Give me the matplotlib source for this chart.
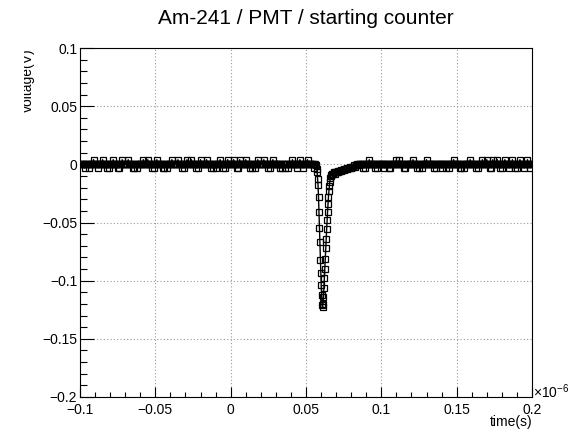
import numpy as np
import matplotlib
matplotlib.use("Agg")
from matplotlib import pyplot as plt
from matplotlib.ticker import MultipleLocator, FuncFormatter
from matplotlib.transforms import Bbox

plt.rcParams['font.family'] = ['Liberation Sans', 'DejaVu Sans']
plt.rcParams['mathtext.default'] = 'regular'

# baseline before the pulse, 0.5 ns steps from -100 ns to 56 ns (mV)
pre_t_ns = np.linspace(-100, 56, 313)
pre_mv = [0, 0, 0, 0, 0, 0, -3, 0, 0, 0, 0, 0, -3, 0, 0, 0, 0, 0, 4, 0,
          0, 0, 0, 0, -3, 0, 0, 0, 0, 0, 4, 0, 0, 0, 0, 0, -3, 0, -3, 0,
          0, 0, 0, 0, 4, 0, 0, 0, 0, 0, -3, 0, -3, 0, 0, 0, 4, 0, 0, 0,
          0, 0, 0, 0, 4, 0, 0, 0, 0, 0, -3, 0, -3, 0, 0, 0, -3, 0, 0, 0,
          0, 0, 0, 0, 4, 0, 0, 0, 0, 0, 4, 0, 0, 0, 0, 0, -3, 0, -3, 0,
          0, 0, 4, 0, 0, 0, 0, 0, 0, 0, -3, 0, -3, 0, 0, 0, -3, 0, 0, 0,
          0, 0, 4, 0, 0, 0, 0, 0, 0, 0, 4, 0, 0, 0, 0, 0, -3, 0, -3, 0,
          0, 0, 4, 0, 0, 0, 0, 0, 4, 0, 0, 0, 0, 0, -3, 0, -3, 0, 0, 0,
          4, 0, 0, 0, 0, 0, 0, 0, 4, 0, 0, 0, 0, 0, -3, 0, -3, 0, 0, 0,
          -3, 0, 0, 0, 0, 0, 4, 0, 0, 0, -3, 0, -3, 0, 0, 0, 4, 0, 0, 0,
          0, 0, 0, 0, 4, 0, 0, 0, -3, 0, -3, 0, 4, 0, 0, 0, 0, 0, 0, 0,
          4, 0, 0, 0, 0, 0, -3, 0, -3, 0, 0, 0, -3, 0, 0, 0, 4, 0, 0, 0,
          0, 0, 0, 0, 4, 0, 0, 0, 0, 0, -3, 0, -3, 0, 0, 0, 4, 0, 0, 0,
          0, 0, 0, 0, 0, 0, -3, 0, -3, 0, 0, 0, -3, 0, 0, 0, -3, 0, 0, 0,
          0, 0, 4, 0, 0, 0, 0, 0, -3, 0, 0, 0, 4, 0, 0, 0, -3, 0, 0, 0,
          0, 0, 4, 0, 0, 0, 0, 0, 0, 0, -3, 0, 0]

# fast part of the pulse (ns, V)
pulse_t_ns = [56.8, 57.1, 57.4, 57.7, 58.0, 58.3, 58.6, 58.9, 59.2, 59.5,
              59.8, 60.1, 60.4, 60.7, 61.0, 61.3, 61.6, 61.9, 62.2, 62.5,
              62.8, 63.1, 63.4, 63.7, 64.0, 64.3, 64.6, 64.9, 65.2, 65.5,
              65.8, 66.1, 66.4, 66.7]
pulse_v = [-0.001, -0.004, -0.007, -0.013, -0.018, -0.028, -0.041, -0.055,
           -0.067, -0.082, -0.093, -0.104, -0.112, -0.121, -0.123, -0.120,
           -0.114, -0.106, -0.098, -0.090, -0.081, -0.072, -0.064, -0.056,
           -0.048, -0.041, -0.034, -0.028, -0.023, -0.019, -0.015, -0.012,
           -0.010, -0.009]

# slow tail, 0.5 ns steps from 67 ns to 84.5 ns (V)
tail_t_ns = np.linspace(67, 84.5, 36)
tail_v = [-0.008, -0.008, -0.008, -0.007, -0.008, -0.007, -0.007, -0.007,
          -0.006, -0.007, -0.006, -0.006, -0.006, -0.005, -0.005, -0.005,
          -0.004, -0.005, -0.004, -0.004, -0.003, -0.004, -0.003, -0.003,
          -0.003, -0.002, -0.003, -0.002, -0.002, -0.002, -0.001, -0.002,
          -0.001, -0.001, 0.0, -0.001]

# baseline after the pulse, 0.5 ns steps from 85 ns to 200 ns (mV)
post_t_ns = np.linspace(85, 200, 231)
post_mv = [0, 0, 0, 0, 0, 0, -3, 0, -3, 0, 0, 0, 0, 0, 4, 0, 0, 0, 0, 0,
           0, 0, -3, 0, -3, 0, 0, 0, 0, 0, 0, 0, 0, 0, -3, 0, 0, 0, 0, 0,
           -3, 0, -3, 0, 0, 0, 0, 0, 0, 0, 4, 0, 0, 0, 4, 0, 0, 0, 0, 0,
           -3, 0, -3, 0, 0, 0, 0, 0, 0, 0, 0, 0, 4, 0, 0, 0, 0, 0, -3, 0,
           -3, 0, 0, 0, -3, 0, 0, 0, 0, 0, 4, 0, 0, 0, 0, 0, 0, 0, 0, 0,
           -3, 0, -3, 0, 0, 0, 0, 0, 0, 0, -3, 0, 0, 0, 0, 0, -3, 0, 0, 0,
           -3, 0, 0, 0, 0, 0, 4, 0, 0, 0, 0, 0, 0, 0, -3, 0, -3, 0, 0, 0,
           -3, 0, 0, 0, 0, 0, 0, 0, 4, 0, 0, 0, 0, 0, 0, 0, -3, 0, -3, 0,
           0, 0, 0, 0, 4, 0, 0, 0, 0, 0, 4, 0, 0, 0, -3, 0, -3, 0, 4, 0,
           0, 0, 0, 0, 4, 0, 0, 0, -3, 0, -3, 0, 0, 0, 4, 0, 0, 0, 0, 0,
           -3, 0, 0, 0, 4, 0, 0, 0, -3, 0, -3, 0, 0, 0, 4, 0, 0, 0, 0, 0,
           -3, 0, 0, 0, 4, 0, 0, 0, -3, 0, 0]

t_us = np.concatenate([pre_t_ns, pulse_t_ns, tail_t_ns, post_t_ns]) / 1000.0
volt = np.concatenate([np.array(pre_mv) / 1000.0, pulse_v, tail_v,
                       np.array(post_mv) / 1000.0])


def root_fmt(x, pos):
    x = round(x, 4)
    if x == 0:
        return "0"
    return f"{x:g}".replace("-", "\u2212")


W, H = 578, 434
fig = plt.figure(figsize=(W / 100, H / 100), dpi=100)
ax = fig.add_axes([80 / W, 37 / H, 452 / W, 349 / H])

ax.plot(t_us, volt, color="black", lw=1.0, marker="s", ms=4.2,
        mfc="none", mec="black", mew=0.9, zorder=3)

ax.set_xlim(-0.1, 0.2)
ax.set_ylim(-0.2, 0.1)
ax.xaxis.set_major_locator(MultipleLocator(0.05))
ax.xaxis.set_minor_locator(MultipleLocator(0.01))
ax.yaxis.set_major_locator(MultipleLocator(0.05))
ax.yaxis.set_minor_locator(MultipleLocator(0.01))
ax.xaxis.set_major_formatter(FuncFormatter(root_fmt))
ax.yaxis.set_major_formatter(FuncFormatter(root_fmt))

ax.grid(True, which="major", color="0.6", ls=(0, (1, 2)), lw=0.8)
ax.set_axisbelow(True)
for s in ax.spines.values():
    s.set_linewidth(0.8)
    s.set_color("black")

ax.tick_params(axis="both", which="both", direction="in", top=False,
               right=False, width=0.8, labelsize=10)
ax.tick_params(axis="y", which="major", length=10, pad=2)
ax.tick_params(axis="y", which="minor", length=5)
ax.tick_params(axis="x", which="major", length=7.2, pad=4)
ax.tick_params(axis="x", which="minor", length=3.6)

fig.text(306 / W, 1 - 19 / H, "Am-241 / PMT / starting counter",
         ha="center", va="center", fontsize=15)
fig.text(532 / W, 1 - 422 / H, "time(s)", ha="right", va="center",
         fontsize=10)
fig.text(533 / W, 1 - 392 / H, "\u00d710$^{-6}$", ha="left", va="center",
         fontsize=10)

# y title sits partly outside the visible strip, clip its left side
ylab = fig.text(32 / W, 1 - 48 / H, "voltage(V)", rotation=90,
                rotation_mode="anchor", ha="right", va="baseline",
                fontsize=10)
ylab.set_clip_box(Bbox([[24, 0], [W, H]]))
ylab.set_clip_on(True)

fig.savefig("out.png", dpi=100)
